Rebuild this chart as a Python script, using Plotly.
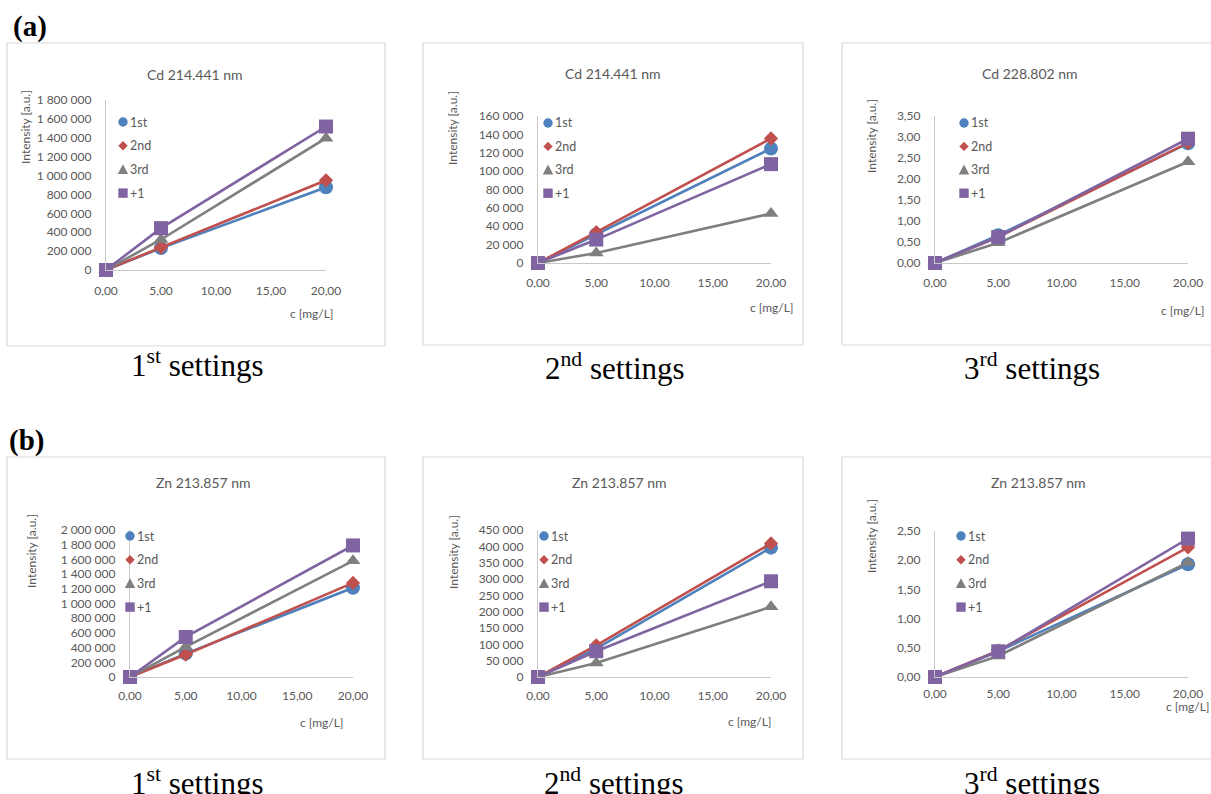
import plotly.graph_objects as go

W, H = 1211, 794

# ---------------- data ----------------
conc = [0, 5, 20]
x_ticks = [0, 5, 10, 15, 20]
series_names = ["1st", "2nd", "3rd", "+1"]

# (a) Cd 214.441 nm - 1st settings
cd1_1st = [0, 232000, 876000]
cd1_2nd = [0, 240000, 950000]
cd1_3rd = [0, 323000, 1396000]
cd1_plus1 = [0, 443000, 1519000]

# (a) Cd 214.441 nm - 2nd settings
cd2_1st = [0, 31000, 124500]
cd2_2nd = [0, 33500, 135500]
cd2_3rd = [0, 10900, 53800]
cd2_plus1 = [0, 25500, 107600]

# (a) Cd 228.802 nm - 3rd settings
cd3_1st = [0, 0.66, 2.85]
cd3_2nd = [0, 0.62, 2.86]
cd3_3rd = [0, 0.48, 2.41]
cd3_plus1 = [0, 0.62, 2.96]

# (b) Zn 213.857 nm - 1st settings
zn1_1st = [0, 318000, 1214000]
zn1_2nd = [0, 305000, 1280000]
zn1_3rd = [0, 410000, 1580000]
zn1_plus1 = [0, 545000, 1790000]

# (b) Zn 213.857 nm - 2nd settings
zn2_1st = [0, 87000, 396000]
zn2_2nd = [0, 97000, 409000]
zn2_3rd = [0, 43000, 215000]
zn2_plus1 = [0, 79000, 293000]

# (b) Zn 213.857 nm - 3rd settings
zn3_1st = [0, 0.44, 1.93]
zn3_2nd = [0, 0.45, 2.22]
zn3_3rd = [0, 0.36, 1.96]
zn3_plus1 = [0, 0.44, 2.37]

panel_series = [
    [cd1_1st, cd1_2nd, cd1_3rd, cd1_plus1],
    [cd2_1st, cd2_2nd, cd2_3rd, cd2_plus1],
    [cd3_1st, cd3_2nd, cd3_3rd, cd3_plus1],
    [zn1_1st, zn1_2nd, zn1_3rd, zn1_plus1],
    [zn2_1st, zn2_2nd, zn2_3rd, zn2_plus1],
    [zn3_1st, zn3_2nd, zn3_3rd, zn3_plus1],
]
panel_titles = ["Cd 214.441 nm", "Cd 214.441 nm", "Cd 228.802 nm",
                "Zn 213.857 nm", "Zn 213.857 nm", "Zn 213.857 nm"]
panel_captions = ["1<sup>st</sup> settings", "2<sup>nd</sup> settings", "3<sup>rd</sup> settings",
                  "1<sup>st</sup> settings", "2<sup>nd</sup> settings", "3<sup>rd</sup> settings"]
y_max = [1800000, 160000, 3.5, 2000000, 450000, 2.5]
y_step = [200000, 20000, 0.5, 200000, 50000, 0.5]
y_formats = [",d", ",d", ".2f", ",d", ",d", ".2f"]
row_labels = ["(a)", "(b)"]

# ---------------- style ----------------
colors = ["#4F81BD", "#C0504D", "#7F7F7F", "#8064A2"]
symbols = ["circle", "diamond", "triangle-up", "square"]
msizes = [14, 11, 13, 14]
TXT = "#595959"
AXC = "#C8C8C8"
FONT = "Lato"

# pixel geometry of each panel
geom = [
    dict(box=(7, 43, 385, 346), plot=(106, 326, 270, 100), title=(195, 74), ylab=(25, 127),
         xlab=(312, 313, "center"), leg=(123, 122, 23.7), cap=(197, 364), xstand=9),
    dict(box=(423, 43, 803, 345), plot=(538, 771, 263, 116), title=(613, 73), ylab=(453, 128),
         xlab=(772, 308, "center"), leg=(548, 123, 23.4), cap=(615, 366), xstand=8),
    dict(box=(842, 43, 1216, 345), plot=(935, 1188, 263, 116), title=(1030, 73), ylab=(871, 136),
         xlab=(1183, 310, "center"), leg=(964, 123, 23.4), cap=(1032, 366), xstand=8),
    dict(box=(7, 457, 385, 759), plot=(130, 353, 677, 530), title=(203, 482), ylab=(31, 551),
         xlab=(322, 722, "center"), leg=(130, 536, 23.7), cap=(197, 781), xstand=7),
    dict(box=(423, 457, 803, 759), plot=(538, 771, 677, 530), title=(620, 482), ylab=(453, 552),
         xlab=(750, 721, "center"), leg=(544, 536, 23.7), cap=(614, 781), xstand=7),
    dict(box=(842, 457, 1216, 759), plot=(935, 1188, 677, 531), title=(1038, 482), ylab=(871, 536),
         xlab=(1164, 706, "left"), leg=(961, 536, 23.7), cap=(1032, 781), xstand=5),
]
label_pos = [(30, 27), (26, 441)]


def px(x):
    return x / W


def py(y):
    return 1 - y / H


fig = go.Figure()
shapes = []
annotations = []
layout = {}

for i, (series, g) in enumerate(zip(panel_series, geom)):
    n = "" if i == 0 else str(i + 1)
    xa, ya = "x" + n, "y" + n
    x0, x1, yb, yt = g["plot"]
    layout["xaxis" + n] = dict(
        domain=[px(x0), px(x1)], anchor=ya, range=[0, 20], tickvals=x_ticks,
        tickformat=".2f", showline=True, linecolor=AXC, linewidth=1.2, showgrid=False,
        zeroline=False, ticks="", ticklabelstandoff=g["xstand"], automargin=False,
        tickfont=dict(family=FONT, size=12, color=TXT), fixedrange=True)
    layout["yaxis" + n] = dict(
        domain=[py(yb), py(yt)], anchor=xa, range=[0, y_max[i]], dtick=y_step[i], tick0=0,
        tickformat=y_formats[i], showline=True, linecolor=AXC, linewidth=1.2, showgrid=False,
        zeroline=False, ticks="", ticklabelstandoff=11, automargin=False,
        tickfont=dict(family=FONT, size=12, color=TXT), fixedrange=True)
    for k, vals in enumerate(series):
        fig.add_trace(go.Scatter(
            x=conc, y=vals, xaxis=xa, yaxis=ya, mode="lines+markers", name=series_names[k],
            showlegend=False, cliponaxis=False,
            line=dict(color=colors[k], width=2.6),
            marker=dict(symbol=symbols[k], size=msizes[k], color=colors[k])))

    # panel frame
    bl, bt, br, bb = g["box"]
    shapes.append(dict(type="rect", xref="paper", yref="paper", x0=px(bl), x1=px(br),
                       y0=py(bb), y1=py(bt), line=dict(color="#D9D9D9", width=1.2),
                       fillcolor="rgba(0,0,0,0)", layer="below"))
    # title
    annotations.append(dict(text=panel_titles[i], x=px(g["title"][0]), y=py(g["title"][1]),
                            xref="paper", yref="paper", showarrow=False, xanchor="center",
                            yanchor="middle", font=dict(family=FONT, size=14, color=TXT)))
    # axis titles
    annotations.append(dict(text="Intensity [a.u.]", x=px(g["ylab"][0]), y=py(g["ylab"][1]),
                            xref="paper", yref="paper", showarrow=False, textangle=-90,
                            xanchor="center", yanchor="middle",
                            font=dict(family=FONT, size=12, color=TXT)))
    annotations.append(dict(text="c [mg/L]", x=px(g["xlab"][0]), y=py(g["xlab"][1]),
                            xref="paper", yref="paper", showarrow=False, xanchor=g["xlab"][2],
                            yanchor="middle", font=dict(family=FONT, size=12, color=TXT)))
    # caption
    annotations.append(dict(text=panel_captions[i], x=px(g["cap"][0]), y=py(g["cap"][1]),
                            xref="paper", yref="paper", showarrow=False, xanchor="center",
                            yanchor="middle",
                            font=dict(family="Liberation Serif", size=31, color="#000000")))
    # legend (manual, inside plot area)
    lx, ly0, dy = g["leg"]
    for k in range(4):
        cy = ly0 + k * dy
        r = 4.7
        if symbols[k] == "circle":
            shapes.append(dict(type="circle", xref="paper", yref="paper",
                               x0=px(lx - r), x1=px(lx + r), y0=py(cy + r), y1=py(cy - r),
                               fillcolor=colors[k], line=dict(width=0)))
        elif symbols[k] == "square":
            shapes.append(dict(type="rect", xref="paper", yref="paper",
                               x0=px(lx - r), x1=px(lx + r), y0=py(cy + r), y1=py(cy - r),
                               fillcolor=colors[k], line=dict(width=0)))
        elif symbols[k] == "diamond":
            pts = [(lx, cy - r), (lx + r, cy), (lx, cy + r), (lx - r, cy)]
            path = "M " + " L ".join(f"{px(a):.5f},{py(b):.5f}" for a, b in pts) + " Z"
            shapes.append(dict(type="path", xref="paper", yref="paper", path=path,
                               fillcolor=colors[k], line=dict(width=0)))
        else:
            pts = [(lx, cy - r - 0.5), (lx + r + 0.5, cy + r), (lx - r - 0.5, cy + r)]
            path = "M " + " L ".join(f"{px(a):.5f},{py(b):.5f}" for a, b in pts) + " Z"
            shapes.append(dict(type="path", xref="paper", yref="paper", path=path,
                               fillcolor=colors[k], line=dict(width=0)))
        annotations.append(dict(text=series_names[k], x=px(lx + 5), y=py(cy),
                                xref="paper", yref="paper", showarrow=False, xanchor="left",
                                yanchor="middle", font=dict(family=FONT, size=12.5, color=TXT)))

for lab, (lx, ly) in zip(row_labels, label_pos):
    annotations.append(dict(text="<b>" + lab + "</b>", x=px(lx), y=py(ly), xref="paper",
                            yref="paper", showarrow=False, xanchor="center", yanchor="middle",
                            font=dict(family="Liberation Serif", size=29, color="#000000")))

fig.update_layout(
    width=W, height=H, margin=dict(l=0, r=0, t=0, b=0, pad=0), autosize=False,
    paper_bgcolor="white", plot_bgcolor="white", separators=", ",
    showlegend=False, shapes=shapes, annotations=annotations, **layout)

fig.write_html(
    "out.html", config={"displayModeBar": False},
    post_script="document.body.style.margin='0';document.body.style.padding='0';"
                "document.body.style.overflow='hidden';"
                "document.documentElement.style.overflow='hidden';")
